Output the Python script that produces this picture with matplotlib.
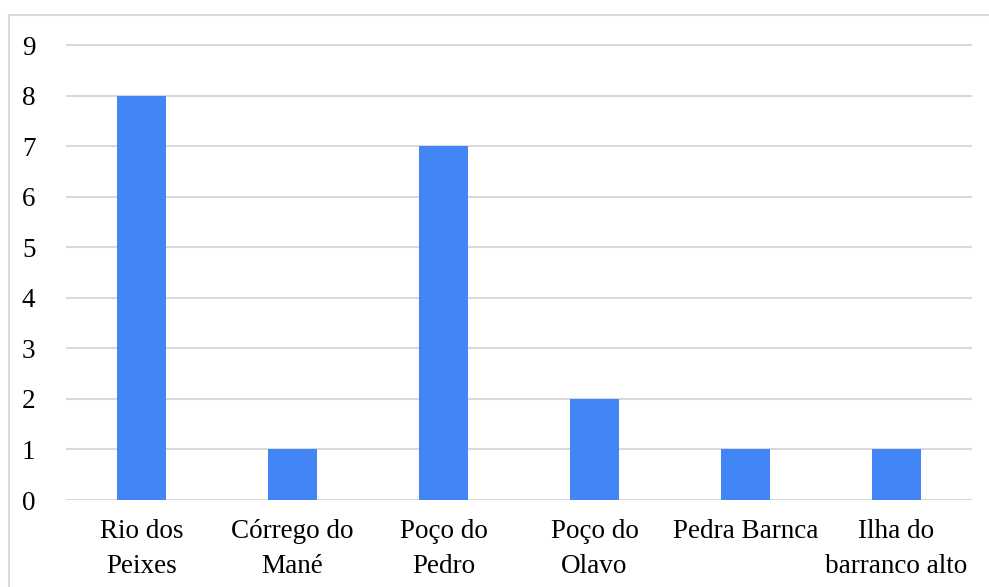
import matplotlib.pyplot as plt
from matplotlib.patches import Rectangle

categories = ['Rio dos\nPeixes', 'Córrego do\nMané', 'Poço do\nPedro',
              'Poço do\nOlavo', 'Pedra Barnca', 'Ilha do\nbarranco alto']
values = [8, 1, 7, 2, 1, 1]
yticks = list(range(0, 10))

plt.rcParams['font.family'] = ['Liberation Serif', 'DejaVu Serif']

fig = plt.figure(figsize=(9.89, 5.87), dpi=100)
# light frame around the chart area
fig.patches.append(Rectangle((9 / 989, -0.05), 1.0, 1 - 15 / 587 + 0.05,
                             transform=fig.transFigure, fill=False,
                             edgecolor='#d9d9d9', linewidth=1.5))

ax = fig.add_axes([66 / 989, 87 / 587, 906 / 989, 457.5 / 587])
x = range(len(categories))
ax.bar(x, values, width=0.32, color='#4285f4', zorder=3)
ax.set_xlim(-0.5, len(categories) - 0.5)
ax.set_ylim(0, 9.05)
ax.set_yticks(yticks)
ax.set_xticks(list(x))
ax.set_xticklabels(categories, fontsize=19.5, linespacing=1.48)
ax.tick_params(axis='y', labelsize=19.5, length=0, pad=22)
ax.tick_params(axis='x', length=0, pad=14)
ax.yaxis.grid(True, color='#d9d9d9', linewidth=1.5, zorder=0)
for s in ax.spines.values():
    s.set_visible(False)

fig.savefig('out.png', dpi=100)
